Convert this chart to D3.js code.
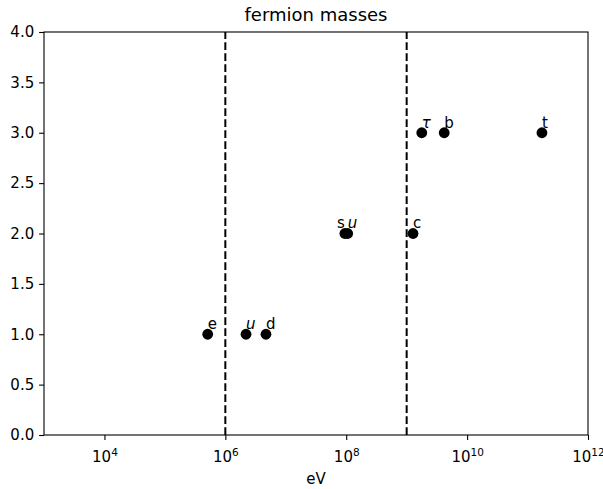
<!DOCTYPE html>
<html>
<head>
<meta charset="utf-8">
<script src="https://cdn.jsdelivr.net/npm/d3@7"></script>
<style>
  body { margin: 0; background: #fff; }
  svg, svg text { font-family: "DejaVu Sans", sans-serif; }
</style>
</head>
<body>
<div id="chart"></div>
<script>
// Fermion masses by generation

const names = ['e', 'u', 'd', 's', 'u', 'c', 'τ', 'b', 't'];
const italicNames = [false, true, false, false, true, false, true, false, false];
const labelAnchors = ['start', 'start', 'start', 'end', 'start', 'start', 'start', 'start', 'start'];
const massesEV = [0.511e6, 2.2e6, 4.7e6, 95e6, 105.7e6, 1.275e9, 1.777e9, 4.18e9, 173e9];
const generations = [1, 1, 1, 2, 2, 2, 3, 3, 3];
const dividers = [1e6, 1e9];
const xTickValues = [1e4, 1e6, 1e8, 1e10, 1e12];
const yTickValues = [0, 0.5, 1, 1.5, 2, 2.5, 3, 3.5, 4];

const width = 603, height = 489;
const margin = {top: 32, right: 15, bottom: 54, left: 44};
const innerW = width - margin.left - margin.right;
const innerH = height - margin.top - margin.bottom;
const fs = 15;

const svg = d3.select('#chart').append('svg')
    .attr('width', width)
    .attr('height', height);

const g = svg.append('g')
    .attr('transform', `translate(${margin.left},${margin.top})`);

const x = d3.scaleLog().domain([1e3, 1e12]).range([0, innerW]);
const y = d3.scaleLinear().domain([0, 4]).range([innerH, 0]);

// dashed generation boundaries
g.selectAll('.divider')
    .data(dividers)
    .enter()
    .append('line')
    .attr('x1', d => x(d))
    .attr('x2', d => x(d))
    .attr('y1', innerH)
    .attr('y2', 0)
    .attr('stroke', '#000')
    .attr('stroke-width', 2)
    .attr('stroke-dasharray', '7.7,3.3');

// points
const pts = names.map((n, i) => ({
    name: n, italic: italicNames[i], anchor: labelAnchors[i], m: massesEV[i], gen: generations[i]
}));

g.selectAll('.dot')
    .data(pts)
    .enter()
    .append('circle')
    .attr('cx', d => x(d.m))
    .attr('cy', d => y(d.gen))
    .attr('r', 5.4)
    .attr('fill', '#000');

g.selectAll('.lbl')
    .data(pts)
    .enter()
    .append('text')
    .attr('x', d => x(d.m))
    .attr('y', d => y(d.gen + 0.05))
    .attr('text-anchor', d => d.anchor)
    .attr('font-size', fs + 'px')
    .attr('font-style', d => d.italic ? 'italic' : 'normal')
    .attr('fill', '#000')
    .text(d => d.name);

// axes
const xAxis = g.append('g')
    .attr('transform', `translate(0,${innerH})`)
    .call(d3.axisBottom(x).tickValues(xTickValues).tickSize(4.9).tickPadding(4.9).tickFormat(''));

xAxis.selectAll('.tick').append('text')
    .attr('fill', '#000')
    .attr('y', 27)
    .attr('text-anchor', 'middle')
    .attr('font-size', fs + 'px')
    .attr('font-family', '"DejaVu Sans", sans-serif')
    .each(function(d) {
        const t = d3.select(this);
        t.append('tspan').text('10');
        t.append('tspan')
            .attr('font-size', '10.5px')
            .attr('dy', -6.5)
            .text(Math.round(Math.log10(d)));
    });

const yAxis = g.append('g')
    .call(d3.axisLeft(y).tickValues(yTickValues).tickSize(4.9).tickPadding(4.9).tickFormat(d3.format('.1f')));
yAxis.selectAll('text')
    .attr('font-size', fs + 'px')
    .attr('font-family', '"DejaVu Sans", sans-serif')
    .attr('fill', '#000');

[xAxis, yAxis].forEach(a => {
    a.select('.domain').remove();
    a.selectAll('.tick line').attr('stroke', '#000').attr('stroke-width', 1.1);
});

// frame
g.append('rect')
    .attr('width', innerW)
    .attr('height', innerH)
    .attr('fill', 'none')
    .attr('stroke', '#000')
    .attr('stroke-width', 1.1);

// axis label
g.append('text')
    .attr('x', innerW / 2)
    .attr('y', innerH + 49)
    .attr('text-anchor', 'middle')
    .attr('font-size', fs + 'px')
    .text('eV');

// title
g.append('text')
    .attr('x', innerW / 2)
    .attr('y', -11)
    .attr('text-anchor', 'middle')
    .attr('font-size', '18px')
    .text('fermion masses');
</script>
</body>
</html>
